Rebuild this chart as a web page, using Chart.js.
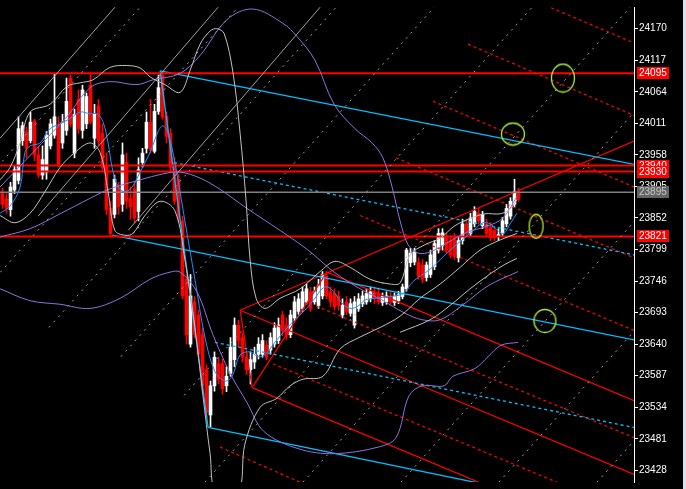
<!DOCTYPE html>
<html>
<head>
<meta charset="utf-8">
<script src="https://cdn.jsdelivr.net/npm/chart.js@4.4.1/dist/chart.umd.min.js"></script>
<style>
html, body { margin: 0; padding: 0; background: #d8e0ea; }
#wrap { width: 683px; height: 489px; position: relative; }
</style>
</head>
<body>
<div id="wrap"><canvas id="chart"></canvas></div>
<script>
// price ticks on the right axis
var tickValues = [24170, 24117, 24064, 24011, 23958, 23905, 23852, 23799, 23746, 23693, 23640, 23587, 23534, 23481, 23428];

// candles (one per bar)
var open = [23894,23884,23866,23899,23915,23982,23997,23982,24015,23958, 23924,23929,23973,23991,24007,23978,23999,24087,23961,24051,
            23999,24010,24075,23986,24040,23994,23940,23868,23858,23904, 23875,23945,23884,23901,23863,23945,23969,24013,23964,24031,
            24092,24023,23994,23945,23917,23847,23749,23640,23711,23689, 23656,23597,23521,23570,23607,23607,23570,23591,23614,23672,
            23651,23618,23597,23610,23623,23623,23638,23630,23640,23646, 23689,23672,23656,23684,23695,23700,23711,23728,23711,23705,
            23721,23754,23728,23725,23721,23689,23711,23692,23672,23700, 23708,23711,23716,23728,23725,23710,23711,23721,23710,23713,
            23720,23733,23777,23778,23777,23773,23752,23757,23770,23798, 23806,23819,23814,23819,23785,23814,23842,23826,23842,23860,
            23839,23842,23836,23831,23821,23826,23842,23855,23875,23896];
var high = [23902,23893,23912,23940,24022,24013,24005,24030,24018,23973, 23973,23997,24018,24095,24022,24026,24087,24092,24035,24067,
            24075,24062,24095,24043,24051,24010,23961,23880,23924,23912, 23978,23961,23904,23912,23953,23969,24030,24051,24043,24092,
            24098,24030,24002,23953,23925,23855,23757,23757,23720,23697, 23667,23605,23578,23627,23618,23615,23602,23651,23684,23680,
            23659,23627,23627,23635,23651,23656,23646,23659,23676,23684, 23695,23684,23697,23720,23725,23736,23741,23736,23736,23749,
            23762,23762,23736,23733,23729,23716,23720,23716,23720,23725, 23729,23733,23736,23736,23733,23726,23728,23728,23726,23729,
            23741,23801,23801,23801,23785,23782,23778,23798,23814,23834, 23834,23826,23822,23826,23821,23850,23850,23860,23871,23868,
            23863,23850,23844,23837,23834,23853,23875,23886,23917,23902];
var low  = [23868,23860,23855,23893,23909,23974,23953,23978,23948,23920, 23917,23917,23968,23986,23938,23969,23991,24005,23953,23994,
            23986,24002,24010,23969,23974,23932,23858,23822,23852,23858, 23863,23868,23850,23844,23847,23937,23961,23961,23961,24026,
            24018,23978,23929,23875,23844,23716,23640,23635,23651,23618, 23561,23517,23501,23561,23573,23556,23560,23586,23602,23635,
            23610,23589,23573,23599,23615,23618,23614,23623,23635,23641, 23654,23648,23651,23679,23690,23695,23707,23695,23707,23700,
            23716,23716,23703,23697,23697,23684,23689,23687,23667,23695, 23703,23707,23711,23708,23707,23705,23707,23707,23705,23708,
            23716,23729,23770,23773,23749,23743,23746,23752,23765,23793, 23798,23793,23785,23782,23778,23808,23821,23821,23837,23842,
            23834,23821,23814,23814,23814,23821,23837,23850,23870,23880];
var close = [23875,23868,23904,23933,24002,24007,23969,24013,23958,23924, 23950,23991,24010,24022,23942,24013,24048,24010,24026,24002,
            24067,24056,24013,24026,23981,23937,23866,23826,23917,23871, 23958,23880,23871,23852,23933,23961,24013,23966,24031,24071,
            24022,23989,23937,23880,23852,23721,23656,23721,23656,23623, 23570,23525,23570,23618,23581,23565,23586,23635,23672,23646,
            23618,23597,23614,23623,23640,23646,23618,23651,23667,23672, 23663,23656,23689,23711,23716,23728,23733,23700,23728,23738,
            23757,23721,23711,23703,23705,23705,23695,23708,23711,23716, 23721,23725,23728,23716,23711,23720,23721,23711,23720,23723,
            23736,23798,23793,23795,23754,23749,23773,23790,23809,23826, 23827,23798,23790,23787,23814,23842,23826,23852,23863,23847,
            23858,23826,23819,23819,23824,23847,23868,23880,23896,23883];

// indicator curves, [bar, price]
var maFast = [[-0.6,23860],[1.9,23872],[4.4,23904],[5.6,23962],[6.9,23973],[9.4,23978],[11.9,24002],[14.4,24010],[16.9,24019],[19.4,24030],
              [21.9,24027],[23.6,24027],[25.1,24014],[26.4,23978],[27.4,23937],[28.9,23904],[30.6,23896],[32.4,23904],[34.4,23929],[36.9,23962],
              [38.9,23997],[40.1,24007],[41.4,23994],[43.1,23945],[45.6,23847],[48.1,23749],[50.6,23652],[53.1,23594],[55.6,23578],[57.4,23586],
              [59.4,23622],[61.9,23627],[63.9,23619],[65.6,23622],[68.1,23643],[70.6,23663],[73.1,23681],[75.6,23697],[78.1,23717],[79.9,23733],
              [81.4,23736],[83.1,23725],[84.9,23709],[86.9,23700],[88.9,23704],[90.6,23714],[93.1,23717],[96.9,23720],[100.1,23725],[102.6,23745],
              [106.9,23766],[111.9,23798],[116.9,23826],[120.1,23844],[121.9,23842],[125.1,23826],[126.9,23842],[128.6,23860]];
var bandUpper = [[-0.6,23916],[1.9,23937],[4.4,23978],[6.9,24030],[11.9,24043],[16.1,24073],[19.4,24079],[22.6,24084],[26.9,24105],[31.1,24108],
                 [34.4,24104],[36.9,24089],[40.6,24076],[44.4,24063],[46.9,24100],[49.4,24144],[51.9,24166],[53.6,24170],[55.4,24162],[57.6,24097],
                 [59.4,23994],[60.9,23880],[61.9,23782],[63.4,23717],[65.6,23700],[69.4,23717],[74.4,23733],[79.4,23762],[83.1,23779],[86.9,23769],
                 [91.9,23749],[96.9,23741],[99.4,23743],[101.9,23790],[105.6,23807],[109.4,23818],[113.1,23839],[116.9,23851],[120.6,23859],[124.4,23859],
                 [126.9,23867],[128.6,23883]];
var bandLower = [[-0.6,23856],[3.1,23844],[6.9,23860],[10.6,23896],[14.4,23937],[18.1,23962],[21.9,23978],[24.4,23962],[26.4,23896],[28.1,23831],
                 [30.6,23823],[32.6,23826],[35.6,23856],[39.4,23880],[43.1,23864],[45.6,23782],[48.1,23668],[50.1,23554],[51.9,23456],[53.4,23390],
                 [58.9,23390],[60.6,23472],[64.4,23534],[68.6,23549],[71.9,23570],[75.1,23581],[80.1,23586],[84.4,23632],[89.4,23652],[94.4,23668],
                 [99.4,23687],[104.4,23717],[109.4,23741],[114.4,23769],[119.4,23798],[124.4,23815],[128.6,23826]];
var bandLower2 = [[99.4,23660],[106.9,23681],[111.9,23705],[116.9,23733],[121.9,23758],[125.6,23774],[128.6,23784]];
var slowUpper = [[-0.6,23904],[7.6,23962],[16.1,24022],[21.9,24071],[26.9,24081],[33.6,24076],[37.6,24084],[44.4,24095],[49.4,24125],[56.1,24185],
                 [62.6,24203],[70.1,24179],[73.6,24157],[78.1,24117],[82.9,24043],[88.1,24002],[92.4,23978],[95.1,23953],[97.4,23904],[99.4,23847],
                 [101.4,23807],[103.9,23793],[106.9,23795],[111.1,23810],[116.1,23828],[121.1,23838],[125.1,23852],[128.6,23888]];
var slowMid = [[-0.6,23820],[6.9,23834],[14.4,23859],[21.9,23885],[26.9,23901],[34.4,23916],[40.1,23926],[44.4,23929],[49.4,23919],[54.4,23900],
               [60.9,23869],[69.4,23831],[76.4,23798],[82.9,23761],[89.4,23733],[94.9,23714],[100.6,23692],[104.9,23681],[109.4,23681],[114.9,23705],
               [121.4,23738],[128.9,23762]];
var slowLower = [[-0.6,23733],[6.9,23713],[14.4,23707],[21.9,23700],[29.4,23717],[36.9,23749],[41.9,23761],[44.4,23761],[48.6,23728],[52.6,23656],
                 [56.9,23591],[61.1,23542],[65.4,23493],[74.1,23464],[82.9,23456],[93.9,23467],[98.4,23483],[101.6,23553],[104.9,23570],[110.4,23570],
                 [112.6,23586],[118.1,23599],[121.4,23619],[124.6,23638],[128.9,23643]];

// horizontal levels
var redLevels = [24095, 23940, 23930, 23821];
var lastPrice = 23895;

// drawn objects, [[bar, price], [bar, price]]
var cyanLines = [
  [[39.4,24099],[157.9,23942]],
  [[39.4,24099],[51.4,23500]],
  [[27.4,23823],[157.9,23647]],
  [[51.4,23500],[157.9,23353]]
];
var cyanDashed = [
  [[42.9,23945],[157.9,23790]],
  [[53.1,23643],[157.9,23500]]
];
var redLines = [
  [[59.4,23697],[157.9,23981]],
  [[59.4,23697],[62.4,23567]],
  [[62.4,23567],[81.1,23761]],
  [[59.4,23697],[157.9,23421]],
  [[81.1,23761],[157.9,23545]],
  [[62.4,23567],[157.9,23299]]
];
var redDashed = [
  [[134.4,24213],[157.9,24146]],
  [[116.4,24144],[157.9,24024]],
  [[107.6,24048],[157.9,23904]],
  [[98.4,23953],[157.9,23785]],
  [[89.4,23856],[157.9,23663]],
  [[78.4,23704],[157.9,23483]],
  [[67.6,23607],[157.9,23354]],
  [[54.4,23467],[74.4,23408]]
];
var grayDashed = [
  [[-19.9,23798],[34.4,24206]],
  [[-6.4,23717],[58.9,24206]],
  [[11.6,23668],[83.4,24206]],
  [[29.6,23619],[107.9,24206]],
  [[45.4,23554],[132.4,24206]],
  [[50.6,23408],[156.9,24206]],
  [[75.1,23408],[181.4,24206]],
  [[99.6,23408],[205.9,24206]],
  [[124.1,23408],[230.4,24206]],
  [[148.6,23408],[254.9,24206]]
];
var graySolid = [
  [[-0.6,23986],[28.1,24206]],
  [[8.9,23855],[53.9,24206]],
  [[31.4,23831],[79.4,24206]]
];
// marker ellipses: bar, price, width px, height px
var rings = [[140.1,24087,23,28],[127.6,23993,23,22],[133.4,23838,14,24],[135.6,23679,22,23]];

var labelBoxes = [
  { value: 24095, bg: '#ff0000', fg: '#ffffff' },
  { value: 23940, bg: '#ff0000', fg: '#ffffff' },
  { value: 23930, bg: '#ff0000', fg: '#ffffff' },
  { value: lastPrice, bg: '#646464', fg: '#c8c8c8' },
  { value: 23821, bg: '#ff0000', fg: '#ffffff' }
];

var xMin = -0.625, xMax = 157.875;
var axisFont = '"Liberation Sans", Arial, sans-serif';

function pts(a) { return a.map(function (p) { return { x: p[0], y: p[1] }; }); }

function lineSet(arr, color, dash, curve, width) {
  return arr.map(function (seg) {
    return {
      type: 'line', data: pts(seg), borderColor: color, borderWidth: width || 1,
      borderDash: dash || [], pointRadius: 0, tension: curve ? 0.35 : 0, order: 1
    };
  });
}

function ringImage(w, h) {
  var c = document.createElement('canvas');
  c.width = w + 3; c.height = h + 3;
  var g = c.getContext('2d');
  g.strokeStyle = '#b0f03c';
  g.lineWidth = 1.3;
  g.beginPath();
  g.ellipse(c.width / 2, c.height / 2, w / 2, h / 2, 0, 0, Math.PI * 2);
  g.stroke();
  return c;
}

var wickData = [], bodyData = [], candleColors = [];
for (var i = 0; i < open.length; i++) {
  wickData.push({ x: i, y: [low[i], high[i]] });
  bodyData.push({ x: i, y: [open[i], close[i]] });
  candleColors.push(close[i] >= open[i] ? '#ffffff' : '#ff0000');
}

var datasets = [];
datasets = datasets.concat(lineSet(grayDashed, '#a0a0a0', [2, 5], false));
datasets = datasets.concat(lineSet(graySolid, '#a0a0a0', [], false));
datasets.push({ type: 'bar', data: wickData, backgroundColor: candleColors, barThickness: 1, grouped: false, order: 5 });
datasets.push({ type: 'bar', data: bodyData, backgroundColor: candleColors, barThickness: 3, minBarLength: 1, grouped: false, order: 4 });
datasets = datasets.concat(lineSet([bandUpper, bandLower, bandLower2], '#c0c0c0', [], true));
datasets = datasets.concat(lineSet([slowUpper, slowMid, slowLower], '#9370db', [], true));
datasets = datasets.concat(lineSet([maFast], '#1e90ff', [], true));
datasets = datasets.concat(lineSet([[[xMin, lastPrice], [xMax, lastPrice]]], '#808080', [], false, 1.5));
datasets = datasets.concat(lineSet(redLevels.map(function (v) { return [[xMin, v], [xMax, v]]; }), '#ff0000', [], false, 2));
datasets = datasets.concat(lineSet(cyanLines, '#00bfff', [], false, 1.3));
datasets = datasets.concat(lineSet(cyanDashed, '#00bfff', [3, 3], false, 1.3));
datasets = datasets.concat(lineSet(redLines, '#ff0000', [], false, 1.2));
datasets = datasets.concat(lineSet(redDashed, '#ff0000', [3, 3], false, 1.2));
rings.forEach(function (r) {
  datasets.push({
    type: 'scatter', data: [{ x: r[0], y: r[1] }], pointStyle: ringImage(r[2], r[3]),
    pointRadius: 12, order: 0
  });
});

var blackBg = {
  id: 'blackBg',
  beforeDraw: function (chart) {
    var c = chart.ctx;
    c.save();
    c.fillStyle = '#000000';
    c.fillRect(0, 0, chart.width, chart.height);
    c.restore();
  }
};

var priceBoxes = {
  id: 'priceBoxes',
  afterDraw: function (chart) {
    var c = chart.ctx, s = chart.scales.y;
    c.save();
    c.font = '10px ' + axisFont;
    c.textBaseline = 'middle';
    labelBoxes.forEach(function (b) {
      var y = Math.round(s.getPixelForValue(b.value));
      c.fillStyle = b.bg;
      c.fillRect(637, y - 6, 32, 12);
      c.fillStyle = b.fg;
      c.fillText(String(b.value), 639, y + 0.5);
    });
    c.restore();
  }
};

new Chart(document.getElementById('chart'), {
  type: 'bar',
  data: { datasets: datasets },
  options: {
    responsive: true,
    maintainAspectRatio: false,
    animation: false,
    devicePixelRatio: 1,
    layout: { padding: 0, autoPadding: false },
    plugins: { legend: { display: false }, tooltip: { enabled: false } },
    scales: {
      x: { type: 'linear', min: xMin, max: xMax, display: false, offset: false },
      y: {
        position: 'right',
        min: 23408.4,
        max: 24206.4,
        afterBuildTicks: function (scale) {
          scale.ticks = tickValues.map(function (v) { return { value: v }; });
        },
        afterFit: function (scale) { scale.width = 49; },
        ticks: {
          color: '#ffffff',
          padding: 1,
          font: { family: axisFont, size: 10 },
          callback: function (v) { return String(v); }
        },
        grid: { drawOnChartArea: false, drawTicks: true, tickLength: 4, tickColor: '#ffffff' },
        border: { display: true, color: '#ffffff', width: 1 }
      }
    }
  },
  plugins: [blackBg, priceBoxes]
});
</script>
</body>
</html>
